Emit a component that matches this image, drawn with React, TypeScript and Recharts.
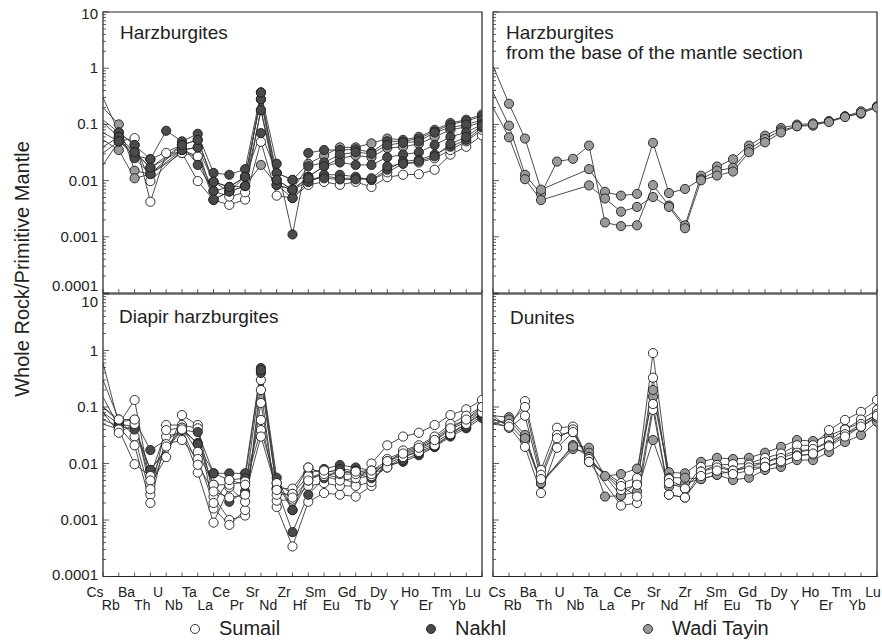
import React from "react";
import { LineChart, Line, XAxis, YAxis, ReferenceArea } from "recharts";

const FONT = "'Liberation Sans', Arial, Helvetica, sans-serif";

const ELEMENTS = ["Cs", "Rb", "Ba", "Th", "U", "Nb", "Ta", "La", "Ce", "Pr", "Sr", "Nd", "Zr", "Hf", "Sm", "Eu", "Gd", "Tb", "Dy", "Y", "Ho", "Er", "Tm", "Yb", "Lu"];
const ELEMENT_TICKS = ELEMENTS.map((_, i) => i);
const Y_MAJOR_TICKS = [0.0001, 0.001, 0.01, 0.1, 1, 10];
const Y_MAJOR_LABELS = ["0.0001", "0.001", "0.01", "0.1", "1", "10"];
const Y_MINOR_FACTORS = [2, 3, 4, 5, 6, 7, 8, 9];
const Y_ALL_TICKS = [
  ...Y_MAJOR_TICKS.slice(0, 5).flatMap((m) => [m, ...Y_MINOR_FACTORS.map((f) => Number((m * f).toPrecision(3)))]),
  10,
];

const GROUP_FILL: Record<string, string> = { S: "#ffffff", N: "#4a4a4a", W: "#9a9a9a" };
const LEGEND_GROUPS = ["S", "N", "W"];
const LEGEND_LABELS = ["Sumail", "Nakhl", "Wadi Tayin"];

// ---- Harzburgites (top-left) ----
// Cs Rb Ba Th U Nb Ta La Ce Pr Sr Nd Zr Hf Sm Eu Gd Tb Dy Y Ho Er Tm Yb Lu
const HZ_W1 = [0.2, 0.1, 0.015, 0.013, null, 0.043, 0.053, 0.0095, 0.0077, 0.0117, 0.28, 0.0137, 0.0103, 0.02, 0.028, 0.039, 0.039, 0.046, 0.056, 0.053, 0.06, 0.08, 0.106, 0.121, 0.15];
const HZ_W2 = [0.053, 0.035, 0.011, 0.013, null, 0.031, 0.027, 0.0046, 0.0064, 0.008, 0.019, 0.0084, 0.0069, 0.0117, 0.018, 0.025, 0.028, 0.026, 0.038, 0.04, 0.045, 0.06, 0.08, 0.09, 0.11];
const HZ_S1 = [0.019, 0.05, 0.057, 0.0042, 0.031, 0.031, 0.0098, 0.0045, 0.0037, 0.0046, 0.049, 0.0054, 0.0049, 0.0084, 0.0095, 0.0084, 0.0095, 0.0077, 0.0115, 0.0127, 0.013, 0.0156, 0.029, 0.04, 0.064];
const HZ_S2 = [0.12, 0.072, 0.043, 0.0098, null, 0.035, 0.027, 0.0065, 0.0052, 0.0062, 0.18, 0.0084, 0.0069, 0.0095, 0.012, 0.011, 0.011, 0.0103, 0.014, 0.02, 0.021, 0.025, 0.035, 0.05, 0.08];
const HZ_N1 = [0.3, 0.072, 0.043, 0.024, 0.077, 0.05, 0.068, 0.0137, 0.0127, 0.016, 0.37, 0.02, 0.0011, 0.031, 0.035, 0.035, 0.036, 0.032, 0.05, 0.05, 0.056, 0.075, 0.1, 0.115, 0.14];
const HZ_N2 = [0.107, 0.06, 0.032, 0.017, null, 0.035, 0.039, 0.0095, 0.0064, 0.008, 0.18, 0.0103, 0.0069, 0.018, 0.021, 0.029, 0.032, 0.03, 0.043, 0.047, 0.05, 0.072, 0.088, 0.099, 0.12];
const HZ_N3 = [0.071, 0.05, 0.028, 0.024, null, 0.043, 0.019, 0.0065, 0.0077, 0.0117, 0.07, 0.0137, 0.0103, 0.0117, 0.018, 0.021, 0.019, 0.019, 0.026, 0.029, 0.032, 0.043, 0.06, 0.072, 0.1];
const HZ_N4 = [0.04, 0.06, 0.025, 0.013, null, 0.035, 0.039, 0.0046, 0.0064, 0.0117, 0.28, 0.0084, 0.0049, 0.0095, 0.0127, 0.0127, 0.0117, 0.0103, 0.0156, 0.022, 0.0235, 0.029, 0.04, 0.053, 0.088];
const HZ_N5 = [0.031, 0.05, 0.032, 0.017, null, 0.043, 0.053, 0.0095, 0.0077, 0.008, 0.37, 0.0103, 0.0069, 0.011, 0.011, 0.0105, 0.0105, 0.011, 0.018, 0.02, 0.022, 0.027, 0.045, 0.06, 0.095];

// ---- Harzburgites from the base of the mantle section (top-right) ----
const BASE_W1 = [0.37, 0.095, 0.0127, 0.0058, 0.0218, 0.0244, 0.042, 0.0018, 0.00155, 0.0016, 0.0083, 0.0036, 0.0016, 0.0122, 0.0178, 0.024, 0.042, 0.063, 0.086, 0.099, 0.104, 0.114, 0.139, 0.171, 0.208];
const BASE_W2 = [1.1, 0.233, 0.056, 0.0069, null, null, 0.016, 0.0063, 0.0054, 0.0058, 0.047, 0.006, 0.0071, 0.0106, 0.015, 0.0169, 0.036, 0.055, 0.078, 0.093, 0.095, 0.114, 0.139, 0.155, 0.208];
const BASE_W3 = [0.2, 0.059, 0.0106, 0.0045, null, null, 0.0082, 0.0048, 0.0028, 0.0034, 0.0051, 0.0034, 0.00142, 0.0101, 0.0123, 0.0145, 0.032, 0.048, 0.072, 0.093, 0.1, 0.11, 0.135, 0.16, 0.2];

// ---- Diapir harzburgites (bottom-left) ----
const DI_S1 = [0.6, 0.05, 0.133, 0.0042, 0.013, 0.072, 0.048, 0.0026, 0.001, 0.0012, 0.3, 0.0036, 0.0036, 0.0085, 0.0065, 0.0055, 0.0045, 0.01, 0.021, 0.03, 0.035, 0.048, 0.072, 0.091, 0.133];
const DI_S2 = [0.3, 0.06, 0.03, 0.0028, 0.048, 0.048, 0.042, 0.0016, 0.00082, 0.0015, 0.2, 0.0017, 0.00034, 0.0021, 0.003, 0.0028, 0.0026, 0.004, 0.012, 0.016, 0.02, 0.028, 0.045, 0.06, 0.09];
const DI_S3 = [0.15, 0.045, 0.021, 0.002, 0.03, 0.036, 0.0069, 0.0009, 0.0038, 0.0021, 0.118, 0.0022, 0.0023, 0.004, 0.0045, 0.004, 0.004, 0.0047, 0.01, 0.017, 0.021, 0.03, 0.05, 0.07, 0.1];
const DI_S4 = [0.05, 0.04, 0.0097, 0.006, 0.039, 0.043, 0.016, 0.0042, 0.0042, 0.0048, 0.059, 0.0028, 0.0029, 0.006, 0.006, 0.005, 0.0055, 0.006, 0.011, 0.014, 0.018, 0.025, 0.04, 0.055, 0.085];
const DI_S5 = [0.08, 0.035, 0.05, 0.005, 0.022, 0.026, 0.012, 0.002, 0.0051, 0.0042, 0.039, 0.0045, 0.0029, 0.0085, 0.0065, 0.0065, 0.0065, 0.0065, 0.0085, 0.013, 0.016, 0.021, 0.033, 0.05, 0.08];
const DI_S6 = [0.1, 0.06, 0.06, 0.0035, 0.02, 0.04, 0.0095, 0.0032, 0.0025, 0.0028, 0.03, 0.0034, 0.0025, 0.005, 0.0075, 0.0068, 0.0072, 0.0075, 0.011, 0.015, 0.019, 0.026, 0.042, 0.06, 0.1];
const DI_N1 = [0.1, 0.055, 0.059, 0.0173, null, 0.039, 0.036, 0.0067, 0.0067, 0.0067, 0.49, 0.0056, 0.0015, 0.0067, 0.008, 0.0094, 0.0085, 0.0075, 0.0095, 0.0107, 0.014, 0.0195, 0.03, 0.042, 0.064];
const DI_N2 = [0.08, 0.05, 0.045, 0.0077, null, 0.039, 0.023, 0.0042, 0.0021, 0.0032, 0.4, 0.0036, 0.00061, 0.0028, 0.0055, 0.0077, 0.0067, 0.0055, 0.0085, 0.0115, 0.015, 0.02, 0.032, 0.045, 0.07];
const DI_N3 = [0.06, 0.045, 0.04, 0.0077, null, 0.043, 0.022, 0.0067, 0.0051, 0.0055, 0.45, 0.0045, 0.0015, 0.005, 0.0068, 0.008, 0.0075, 0.0065, 0.01, 0.013, 0.017, 0.023, 0.035, 0.05, 0.075];

// ---- Dunites (bottom-right) ----
const DU_W1 = [0.07, 0.066, 0.032, 0.0045, null, 0.0212, 0.019, 0.006, 0.0065, 0.0081, 0.152, 0.007, 0.0067, 0.0107, 0.0126, 0.012, 0.0126, 0.0155, 0.0197, 0.026, 0.025, 0.031, 0.041, 0.052, 0.072];
const DU_W2 = [0.06, 0.05, 0.025, 0.0045, null, 0.018, 0.0155, 0.0026, 0.0027, 0.0032, 0.026, 0.0039, 0.0045, 0.0053, 0.0063, 0.0051, 0.0056, 0.0077, 0.0087, 0.0115, 0.0115, 0.016, 0.024, 0.032, 0.055];
const DU_W3 = [0.05, 0.06, 0.028, 0.0045, null, 0.02, 0.0131, null, 0.0027, 0.0045, 0.2, 0.0056, 0.0056, 0.0053, 0.0063, 0.0075, 0.0085, 0.0105, 0.0135, 0.017, 0.0175, 0.024, 0.033, 0.045, 0.065];
const DU_S1 = [0.07, 0.043, 0.127, 0.0077, 0.043, 0.045, 0.0107, null, 0.0045, 0.0055, 0.9, 0.0053, 0.0036, 0.0087, 0.0094, 0.0097, 0.01, 0.0125, 0.015, 0.021, 0.021, 0.039, 0.059, 0.082, 0.133];
const DU_S2 = [0.06, 0.05, 0.1, 0.0063, 0.032, 0.036, 0.012, null, 0.0034, 0.0042, 0.33, 0.0045, 0.0036, 0.0072, 0.0094, 0.0075, 0.0095, 0.0105, 0.0125, 0.0155, 0.018, 0.025, 0.04, 0.06, 0.089];
const DU_S3 = [0.055, 0.043, 0.07, 0.0053, 0.028, 0.04, 0.0107, null, 0.0018, 0.002, 0.089, 0.0028, 0.0025, 0.0072, 0.0085, 0.0075, 0.0085, 0.0087, 0.0105, 0.014, 0.0145, 0.021, 0.033, 0.05, 0.075];
const DU_S4 = [0.05, 0.045, 0.0197, 0.003, 0.019, 0.036, 0.0107, null, 0.004, 0.0026, 0.113, 0.0028, 0.0025, 0.006, 0.0075, 0.0065, 0.0075, 0.0087, 0.011, 0.0135, 0.015, 0.02, 0.03, 0.045, 0.07];

type Series = { key: string; group: string; values: (number | null)[] };

const SERIES_HZ: Series[] = [
  { key: "w1", group: "W", values: HZ_W1 },
  { key: "w2", group: "W", values: HZ_W2 },
  { key: "s1", group: "S", values: HZ_S1 },
  { key: "s2", group: "S", values: HZ_S2 },
  { key: "n1", group: "N", values: HZ_N1 },
  { key: "n2", group: "N", values: HZ_N2 },
  { key: "n3", group: "N", values: HZ_N3 },
  { key: "n4", group: "N", values: HZ_N4 },
  { key: "n5", group: "N", values: HZ_N5 },
];
const SERIES_BASE: Series[] = [
  { key: "w1", group: "W", values: BASE_W1 },
  { key: "w2", group: "W", values: BASE_W2 },
  { key: "w3", group: "W", values: BASE_W3 },
];
const SERIES_DI: Series[] = [
  { key: "s1", group: "S", values: DI_S1 },
  { key: "s2", group: "S", values: DI_S2 },
  { key: "s3", group: "S", values: DI_S3 },
  { key: "n1", group: "N", values: DI_N1 },
  { key: "n2", group: "N", values: DI_N2 },
  { key: "n3", group: "N", values: DI_N3 },
  { key: "s4", group: "S", values: DI_S4 },
  { key: "s5", group: "S", values: DI_S5 },
  { key: "s6", group: "S", values: DI_S6 },
];
const SERIES_DU: Series[] = [
  { key: "w1", group: "W", values: DU_W1 },
  { key: "w2", group: "W", values: DU_W2 },
  { key: "w3", group: "W", values: DU_W3 },
  { key: "s1", group: "S", values: DU_S1 },
  { key: "s2", group: "S", values: DU_S2 },
  { key: "s3", group: "S", values: DU_S3 },
  { key: "s4", group: "S", values: DU_S4 },
];

const makeDot = (fill: string) => (p: any) => {
  const { cx, cy, index, value } = p;
  if (index === 0 || value == null || cx == null || cy == null || Number.isNaN(cy)) {
    return <g key={`e${index}`} />;
  }
  return <circle key={`c${index}`} cx={cx} cy={cy} r={4.6} fill={fill} stroke="#1e1e1e" strokeWidth={0.9} />;
};

type PanelProps = {
  plotX: number;
  plotY: number;
  plotW: number;
  plotH: number;
  series: Series[];
  yLabels: boolean;
  xLabels: boolean;
  xShiftStart: number;
  xShiftEnd: number;
  yLabelNudge: number[];
};

function Panel({ plotX, plotY, plotW, plotH, series, yLabels, xLabels, xShiftStart, xShiftEnd, yLabelNudge }: PanelProps) {
  const leftW = yLabels ? 100 : 10;
  const topPad = 10;
  const bottomH = xLabels ? 45 : 10;
  const rightPad = 6;
  const width = leftW + plotW + rightPad;
  const height = topPad + plotH + bottomH;
  const axisX = leftW;
  const axisY = topPad + plotH;

  const data = ELEMENTS.map((el, i) => {
    const row: Record<string, number | string | null> = { i, el };
    series.forEach((s) => {
      row[s.key] = s.values[i];
    });
    return row;
  });

  const yTick = (p: any) => {
    const v = Number(p.payload.value);
    const y = Number(p.y);
    const idx = Y_MAJOR_TICKS.findIndex((m) => Math.abs(m - v) / m < 1e-6);
    const major = idx >= 0;
    return (
      <g>
        <line x1={axisX} x2={axisX + (major ? 6 : 3)} y1={y} y2={y} stroke="#333" strokeWidth={0.8} />
        {major && yLabels ? (
          <text x={axisX - 5} y={y + 5 + (yLabelNudge[idx] || 0)} textAnchor="end" fontSize={15} fill="#222" fontFamily={FONT}>
            {Y_MAJOR_LABELS[idx]}
          </text>
        ) : null}
      </g>
    );
  };

  const xTick = (p: any) => {
    const i = Number(p.payload.value);
    const x = Number(p.x);
    const shift = xShiftStart + ((xShiftEnd - xShiftStart) * i) / 24;
    return (
      <g>
        <line x1={x} x2={x} y1={axisY} y2={axisY - 4} stroke="#333" strokeWidth={0.8} />
        {xLabels ? (
          <text x={x + shift} y={axisY + (i % 2 === 0 ? 20 : 33)} textAnchor="middle" fontSize={14} fill="#222" fontFamily={FONT}>
            {ELEMENTS[i]}
          </text>
        ) : null}
      </g>
    );
  };

  return (
    <div style={{ position: "absolute", left: plotX - leftW, top: plotY - topPad }}>
      <LineChart width={width} height={height} data={data} margin={{ top: topPad, right: rightPad, left: 0, bottom: 0 }}>
        <XAxis
          dataKey="i"
          type="number"
          domain={[0, 24]}
          ticks={ELEMENT_TICKS}
          interval={0}
          height={bottomH}
          axisLine={false}
          tickLine={false}
          tick={xTick}
          allowDataOverflow
        />
        <YAxis
          type="number"
          scale="log"
          domain={[0.0001, 10]}
          ticks={Y_ALL_TICKS}
          interval={0}
          width={leftW}
          axisLine={false}
          tickLine={false}
          tick={yTick}
          allowDataOverflow
        />
        <ReferenceArea x1={0} x2={24} y1={0.0001} y2={10} fill="none" fillOpacity={0} stroke="#222" strokeWidth={1.2} ifOverflow="visible" />
        {series.map((s) => (
          <Line
            key={s.key}
            dataKey={s.key}
            type="linear"
            stroke="#3a3a3a"
            strokeWidth={0.9}
            dot={makeDot(GROUP_FILL[s.group])}
            activeDot={false}
            connectNulls
            isAnimationActive={false}
          />
        ))}
      </LineChart>
    </div>
  );
}

export default function App() {
  const titleStyle = { fontSize: 19, fill: "#222", fontFamily: FONT } as const;
  const legendX = [195, 431, 648];
  return (
    <div style={{ position: "absolute", left: 0, top: 0, width: 882, height: 640, background: "#fff", overflow: "hidden" }}>
      <Panel plotX={103} plotY={12} plotW={379} plotH={281} series={SERIES_HZ} yLabels xLabels={false} xShiftStart={0} xShiftEnd={0} yLabelNudge={[-7, 0, 0, 0, 0, 2]} />
      <Panel plotX={493} plotY={12} plotW={384} plotH={281} series={SERIES_BASE} yLabels={false} xLabels={false} xShiftStart={0} xShiftEnd={0} yLabelNudge={[0, 0, 0, 0, 0, 0]} />
      <Panel plotX={103} plotY={294} plotW={379} plotH={282.5} series={SERIES_DI} yLabels xLabels xShiftStart={-8} xShiftEnd={-9} yLabelNudge={[-2, 0, 0, 0, 0, 8]} />
      <Panel plotX={493} plotY={294} plotW={384} plotH={282.5} series={SERIES_DU} yLabels={false} xLabels xShiftStart={4} xShiftEnd={-4} yLabelNudge={[0, 0, 0, 0, 0, 0]} />
      <svg width={882} height={640} style={{ position: "absolute", left: 0, top: 0, pointerEvents: "none" }}>
        <text transform="translate(29,269) rotate(-90)" textAnchor="middle" fontSize={20} fill="#222" fontFamily={FONT}>
          Whole Rock/Primitive Mantle
        </text>
        <text x={120} y={39} {...titleStyle}>Harzburgites</text>
        <text x={506} y={39} {...titleStyle}>Harzburgites</text>
        <text x={506} y={59} {...titleStyle}>from the base of the mantle section</text>
        <text x={119} y={323} {...titleStyle}>Diapir harzburgites</text>
        <text x={510} y={324} {...titleStyle}>Dunites</text>
        {LEGEND_GROUPS.map((g, k) => (
          <g key={g}>
            <circle cx={legendX[k]} cy={629} r={4.5} fill={GROUP_FILL[g]} stroke="#1e1e1e" strokeWidth={0.9} />
            <text x={legendX[k] + 24} y={635} fontSize={20} fill="#222" fontFamily={FONT}>
              {LEGEND_LABELS[k]}
            </text>
          </g>
        ))}
      </svg>
    </div>
  );
}
